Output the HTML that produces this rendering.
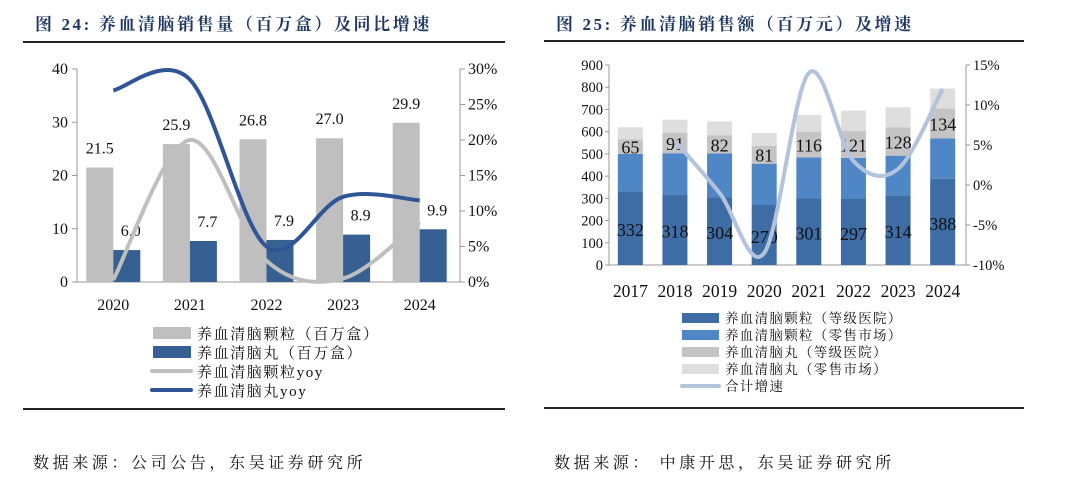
<!DOCTYPE html>
<html><head><meta charset="utf-8">
<style>
body{margin:0;background:#fff;width:1080px;height:495px;overflow:hidden}
svg{display:block}
text{font-family:"Liberation Serif","Noto Serif CJK SC",serif;fill:#111}
.t{font-family:"Liberation Serif","Noto Serif CJK SC",serif;font-weight:bold;fill:#1f3864;font-size:17px;letter-spacing:2.6px}
</style></head>
<body>
<svg id="s" width="1080" height="495">
<text class="t" x="35" y="30">图 24:  养血清脑销售量（百万盒）及同比增速</text>
<line x1="23" y1="42" x2="505" y2="42" stroke="#222" stroke-width="2"/>
<text class="t" x="556" y="30">图 25:  养血清脑销售额（百万元）及增速</text>
<line x1="544" y1="41" x2="1024" y2="41" stroke="#222" stroke-width="2"/>
<line x1="23" y1="409" x2="505" y2="409" stroke="#222" stroke-width="2"/>
<line x1="544" y1="408" x2="1024" y2="408" stroke="#222" stroke-width="2"/>
<text x="33" y="468" style="font-size:16px;letter-spacing:3.6px">数据来源：公司公告，东吴证券研究所</text>
<text x="554" y="468" style="font-size:16px;letter-spacing:3.6px">数据来源：  中康开思，东吴证券研究所</text>
<g id="L"></g><g id="R"></g>
</svg>
<script>
const ns="http://www.w3.org/2000/svg";
function mk(p,t,a,txt){const e=document.createElementNS(ns,t);for(const k in a)e.setAttribute(k,a[k]);if(txt!==undefined)e.textContent=txt;p.appendChild(e);return e;}
function smooth(pts){let d="M"+pts[0][0]+","+pts[0][1];for(let i=0;i<pts.length-1;i++){const p0=pts[i-1]||pts[i],p1=pts[i],p2=pts[i+1],p3=pts[i+2]||p2;const c1x=p1[0]+(p2[0]-p0[0])/6,c1y=p1[1]+(p2[1]-p0[1])/6,c2x=p2[0]-(p3[0]-p1[0])/6,c2y=p2[1]-(p3[1]-p1[1])/6;d+=" C"+c1x+","+c1y+" "+c2x+","+c2y+" "+p2[0]+","+p2[1];}return d;}

// Left chart data
const years1=["2020","2021","2022","2023","2024"];
const granuleVol=[21.5,25.9,26.8,27.0,29.9];
const pillVol=[6.0,7.7,7.9,8.9,9.9];
const granuleYoy=[0.3,20.0,3.0,0.5,8.5];
const pillYoy=[27.0,28.5,5.0,12.0,11.5];
const leftTicks=[0,10,20,30,40];
const rightTicks1=[0,5,10,15,20,25,30];

// Right chart data
const years2=["2017","2018","2019","2020","2021","2022","2023","2024"];
const granHosp=[332,318,304,270,301,297,314,388];
const granRetail=[168,185,198,186,183,185,178,182];
const pillHosp=[65,91,82,81,116,121,128,134];
const pillRetail=[55,60,62,57,75,92,90,90];
const totalGrowth=[null,5.5,-1.0,-8.5,14.0,3.0,2.0,12.0];
const leftTicks2=[0,100,200,300,400,500,600,700,800,900];
const rightTicks2=[-10,-5,0,5,10,15];

// ===== Left =====
(function(){
const g=document.getElementById("L");
const x0=77,x1=460,yb=282,yt=69;
const y=v=>yb-(v/40)*(yb-yt);
const y2=v=>yb-(v/30)*(yb-yt);
const gw=(x1-x0)/years1.length;
const cx=i=>x0+gw*(i+0.5)-2;
let e=mk(g,"line",{x1:x0,y1:yt,x2:x0,y2:yb,stroke:"#999"});

e=mk(g,"line",{x1:x0,y1:yb,x2:x1,y2:yb,stroke:"#999"});

e=mk(g,"line",{x1:x1,y1:yt,x2:x1,y2:yb,stroke:"#999"});

leftTicks.forEach(v=>{mk(g,"line",{x1:x0-5,y1:y(v),x2:x0,y2:y(v),stroke:"#999"});
 e=mk(g,"text",{x:x0-9,y:y(v)+5,"text-anchor":"end","font-size":"16"},v);
 });
rightTicks1.forEach(v=>{mk(g,"line",{x1:x1,y1:y2(v),x2:x1+5,y2:y2(v),stroke:"#999"});
 e=mk(g,"text",{x:x1+8,y:y2(v)+5,"font-size":"16"},v+"%");
 });
years1.forEach((yr,i)=>{
 const c=cx(i),bw=27;
 e=mk(g,"rect",{x:c-bw,y:y(granuleVol[i]),width:bw,height:yb-y(granuleVol[i]),fill:"#bfbfbf"});
 
 e=mk(g,"rect",{x:c,y:y(pillVol[i]),width:bw,height:yb-y(pillVol[i]),fill:"#366092"});
 
 e=mk(g,"text",{x:c-bw/2,y:y(granuleVol[i])-14,"text-anchor":"middle","font-size":"16"},granuleVol[i].toFixed(1));
 
 e=mk(g,"text",{x:c+bw/2+4,y:y(pillVol[i])-14,"text-anchor":"middle","font-size":"16"},pillVol[i].toFixed(1));
 
 e=mk(g,"text",{x:c,y:310,"text-anchor":"middle","font-size":"16"},yr);
 
});
e=mk(g,"path",{d:smooth(granuleYoy.map((v,i)=>[cx(i),y2(v)])),fill:"none",stroke:"#bfbfbf","stroke-width":"4"});

e=mk(g,"path",{d:smooth(pillYoy.map((v,i)=>[cx(i),y2(v)])),fill:"none",stroke:"#2f5597","stroke-width":"4"});

const leg=[["养血清脑颗粒（百万盒）","#bfbfbf","r"],["养血清脑丸（百万盒）","#366092","r"],["养血清脑颗粒yoy","#bfbfbf","l"],["养血清脑丸yoy","#2f5597","l"]];
leg.forEach((L,i)=>{const yy=333+i*19;
 if(L[2]=="r")e=mk(g,"rect",{x:153,y:yy-6,width:38,height:12,fill:L[1]});
 else e=mk(g,"line",{x1:152,y1:yy,x2:191,y2:yy,stroke:L[1],"stroke-width":"4","stroke-linecap":"round"});
 
 e=mk(g,"text",{x:197,y:yy+6,"font-size":"15","letter-spacing":"1.6"},L[0]);
 });
})();

// ===== Right =====
(function(){
const g=document.getElementById("R");
const x0=609,x1=966,yb=265,yt=65;
const y=v=>yb-(v/900)*(yb-yt);
const y2=v=>yb-((v+10)/25)*(yb-yt);
const gw=(x1-x0)/years2.length;
const cx=i=>x0+gw*(i+0.5)-1;
let e=mk(g,"line",{x1:x0,y1:yt,x2:x0,y2:yb,stroke:"#999"});

e=mk(g,"line",{x1:x0,y1:yb,x2:x1,y2:yb,stroke:"#999"});

e=mk(g,"line",{x1:x1,y1:yt,x2:x1,y2:yb,stroke:"#999"});

leftTicks2.forEach(v=>{mk(g,"line",{x1:x0-4,y1:y(v),x2:x0,y2:y(v),stroke:"#999"});
 e=mk(g,"text",{x:x0-6,y:y(v)+5,"text-anchor":"end","font-size":"14.5"},v);
 });
rightTicks2.forEach(v=>{mk(g,"line",{x1:x1,y1:y2(v),x2:x1+4,y2:y2(v),stroke:"#999"});
 e=mk(g,"text",{x:x1+7,y:y2(v)+5,"font-size":"14.5"},v+"%");
 });
const series=[[granHosp,"#3e6ca4","granule-hospital"],[granRetail,"#4f86c6","granule-retail"],[pillHosp,"#c4c4c4","pill-hospital"],[pillRetail,"#dedede","pill-retail"]];
years2.forEach((yr,i)=>{
 const c=cx(i),bw=25;let acc=0;
 series.forEach(s=>{const v=s[0][i];
  e=mk(g,"rect",{x:c-bw/2,y:y(acc+v),width:bw,height:y(acc)-y(acc+v),fill:s[1]});
  
  acc+=v;});
 e=mk(g,"text",{x:c,y:y(granHosp[i]/2)+8,"text-anchor":"middle","font-size":"18"},granHosp[i]);
 
 const b=granHosp[i]+granRetail[i];
 e=mk(g,"text",{x:c,y:y(b+pillHosp[i]/2)+7,"text-anchor":"middle","font-size":"18"},pillHosp[i]);
 
 e=mk(g,"text",{x:c,y:297,"text-anchor":"middle","font-size":"17.5"},yr);
 
});
const pts=[];totalGrowth.forEach((v,i)=>{if(v!==null)pts.push([cx(i),y2(v)]);});
e=mk(g,"path",{d:smooth(pts),fill:"none",stroke:"#b4c3dc","stroke-width":"4"});

const leg=[["养血清脑颗粒（等级医院）","#3e6ca4"],["养血清脑颗粒（零售市场）","#4f86c6"],["养血清脑丸（等级医院）","#c4c4c4"],["养血清脑丸（零售市场）","#dedede"],["合计增速","#b4c3dc"]];
leg.forEach((L,i)=>{const yy=318+i*17;
 if(i<4)e=mk(g,"rect",{x:682,y:yy-5,width:37,height:10,fill:L[1]});
 else e=mk(g,"line",{x1:682,y1:yy,x2:719,y2:yy,stroke:L[1],"stroke-width":"4","stroke-linecap":"round"});
 
 e=mk(g,"text",{x:725,y:yy+5,"font-size":"13.5","letter-spacing":"1.3"},L[0]);
 });
})();
</script>
</body></html>
